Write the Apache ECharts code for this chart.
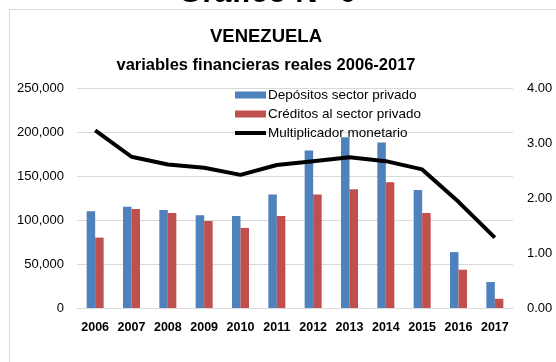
<!DOCTYPE html>
<html>
<head>
<meta charset="utf-8">
<script src="https://cdn.jsdelivr.net/npm/echarts@6/dist/echarts.min.js"></script>
<style>html,body{margin:0;padding:0;background:#fff;}#c{width:556px;height:362px;}</style>
</head>
<body>
<div id="c"></div>
<script>
const years = ['2006','2007','2008','2009','2010','2011','2012','2013','2014','2015','2016','2017'];
const depositos = [110000,115000,111500,105500,104500,129000,179000,194000,188000,134000,63500,29500];
const creditos = [80000,112500,108000,99000,91000,104500,129000,135000,143000,108000,43500,10500];
const multiplicador = [3.23,2.75,2.61,2.55,2.42,2.60,2.67,2.74,2.67,2.52,1.93,1.28];
const leftTicks = [0,50000,100000,150000,200000,250000];
const rightTicks = [0,1,2,3,4];

const REG = "'Liberation Sans',Arial,sans-serif";

const chart = echarts.init(document.getElementById('c'), null, {renderer:'canvas'});
chart.setOption({
  animation:false,
  backgroundColor:'#fff',
  graphic:[
    {type:'rect', shape:{x:9.5,y:9.5,width:600,height:400}, style:{fill:'none',stroke:'#d9d9d9',lineWidth:1}, silent:true, z:0},
    {type:'text', style:{text:'Gráfico N° 6', x:267, y:9, fill:'#000', font:"bold 31px 'Liberation Sans',Arial,sans-serif", textAlign:'center', textVerticalAlign:'bottom'}, silent:true}
  ],
  title:{
    text:'{a|VENEZUELA}\n{b|variables financieras reales 2006-2017}',
    left:266, textAlign:'center', top:23, padding:0,
    textStyle:{fontFamily:REG, color:'#000',
      rich:{
        a:{fontFamily:REG, fontWeight:'bold', fontSize:18.5, lineHeight:28, color:'#000'},
        b:{fontFamily:REG, fontWeight:'bold', fontSize:16.5, lineHeight:28, color:'#000'}
      }}
  },
  legend:{
    orient:'vertical', left:235, top:87, padding:0, itemWidth:31, itemHeight:7, itemGap:3,
    textStyle:{fontFamily:REG, fontSize:13.5, color:'#000', lineHeight:16, padding:[0,0,0,-3]},
    data:[
      {name:'Depósitos sector privado', icon:'rect'},
      {name:'Créditos al sector privado', icon:'rect'},
      {name:'Multiplicador monetario', icon:'path://M0,0 L31,0 L31,4 L0,4 Z', itemStyle:{color:'#000'}}
    ]
  },
  grid:{left:77, right:43, top:88, bottom:54},
  xAxis:{
    type:'category', data:years,
    axisTick:{show:false},
    axisLine:{lineStyle:{color:'#d9d9d9'}},
    axisLabel:{fontFamily:REG, fontWeight:'bold', fontSize:12.5, color:'#000', margin:13, interval:0}
  },
  yAxis:[
    {type:'value', min:leftTicks[0], max:leftTicks[leftTicks.length-1], interval:leftTicks[1]-leftTicks[0],
     axisLine:{show:false}, axisTick:{show:false},
     splitLine:{lineStyle:{color:'#d9d9d9'}},
     axisLabel:{fontFamily:REG, fontSize:13, color:'#000', margin:13,
       formatter:v=>v.toLocaleString('en-US')}},
    {type:'value', min:rightTicks[0], max:rightTicks[rightTicks.length-1], interval:rightTicks[1]-rightTicks[0],
     axisLine:{show:false}, axisTick:{show:false}, splitLine:{show:false},
     axisLabel:{fontFamily:REG, fontSize:13, color:'#000', margin:14,
       formatter:v=>v.toFixed(2)}}
  ],
  series:[
    {name:'Depósitos sector privado', type:'bar', data:depositos, barWidth:8.5, barGap:'0%',
     itemStyle:{color:'#4f81bd'}},
    {name:'Créditos al sector privado', type:'bar', data:creditos, barWidth:8.5, barGap:'0%',
     itemStyle:{color:'#c0504d'}},
    {name:'Multiplicador monetario', type:'line', yAxisIndex:1, data:multiplicador,
     symbol:'none', lineStyle:{color:'#000', width:4}, itemStyle:{color:'#000'}, z:5}
  ]
});
</script>
</body>
</html>
